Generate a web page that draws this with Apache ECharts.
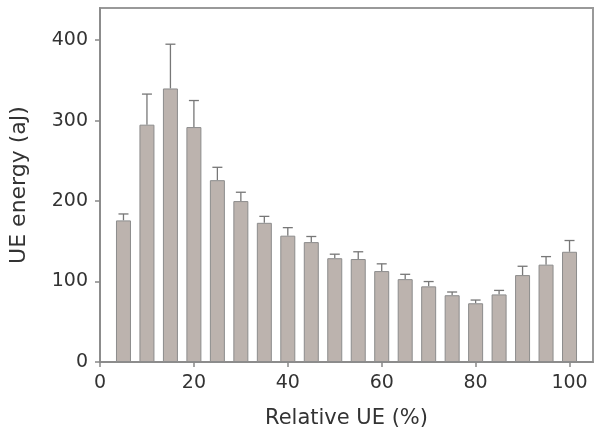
<!DOCTYPE html>
<html>
<head>
<meta charset="utf-8">
<script src="https://cdn.jsdelivr.net/npm/echarts@6/dist/echarts.min.js"></script>
<style>html,body{margin:0;padding:0;background:#fff}#c{width:600px;height:439px}</style>
</head>
<body>
<div id="c"></div>
<script>
var relativeUE = [5, 10, 15, 20, 25, 30, 35, 40, 45, 50, 55, 60, 65, 70, 75, 80, 85, 90, 95, 100];
var energy = [176, 295, 340, 292, 226, 200, 173, 157, 149, 129, 128, 113, 103, 94, 83, 73, 84, 108, 121, 137];
var errorTop = [184, 333, 395, 325, 242, 211, 181, 167, 156, 134, 137, 122, 109, 100, 87, 77, 89, 119, 131, 151];
var xTicks = [0, 20, 40, 60, 80, 100];
var yTicks = [0, 100, 200, 300, 400];

var barData = relativeUE.map(function (x, i) { return [x, energy[i]]; });
var errData = relativeUE.map(function (x, i) { return [x, energy[i], errorTop[i]]; });

var font = 'DejaVu Sans';
var chart = echarts.init(document.getElementById('c'));
chart.setOption({
  animation: false,
  grid: { left: 100, right: 7, top: 8, bottom: 77, show: true, borderColor: '#999', borderWidth: 2, backgroundColor: '#fff' },
  xAxis: {
    type: 'value', min: 0, max: 105, interval: 20,
    name: 'Relative UE (%)', nameLocation: 'middle', nameGap: 46,
    nameTextStyle: { fontFamily: font, fontSize: 21, color: '#333' },
    axisLine: { show: true, lineStyle: { color: '#888', width: 1.5 } },
    axisTick: { show: true, length: 5, inside: false, customValues: xTicks, lineStyle: { color: '#888', width: 1.5 } },
    axisLabel: { fontFamily: font, fontSize: 19, color: '#333', margin: 12, customValues: xTicks },
    splitLine: { show: false }
  },
  yAxis: {
    type: 'value', min: 0, max: 440, interval: 100,
    name: 'UE energy (aJ)', nameLocation: 'middle', nameGap: 70,
    nameTextStyle: { fontFamily: font, fontSize: 22, color: '#333' },
    axisLine: { show: true, lineStyle: { color: '#888', width: 1.5 } },
    axisTick: { show: true, length: 5, customValues: yTicks, lineStyle: { color: '#888', width: 1.5 } },
    axisLabel: { fontFamily: font, fontSize: 19, color: '#333', margin: 12, customValues: yTicks },
    splitLine: { show: false }
  },
  series: [
    {
      type: 'custom',
      data: errData,
      z: 1,
      renderItem: function (params, api) {
        var x = api.value(0);
        var top = api.coord([x, api.value(2)]);
        var base = api.coord([x, api.value(1)]);
        var hw = 5;
        return {
          type: 'group',
          children: [
            { type: 'line', shape: { x1: top[0], y1: top[1], x2: base[0], y2: base[1] }, style: { stroke: '#777', lineWidth: 1.3 } },
            { type: 'line', shape: { x1: top[0] - hw, y1: top[1], x2: top[0] + hw, y2: top[1] }, style: { stroke: '#777', lineWidth: 1.3 } }
          ]
        };
      }
    },
    {
      type: 'bar',
      data: barData,
      barWidth: 15,
      z: 2,
      itemStyle: { color: '#bcb3ae', borderColor: '#8c8c8c', borderWidth: 1 }
    }
  ]
});
</script>
</body>
</html>
